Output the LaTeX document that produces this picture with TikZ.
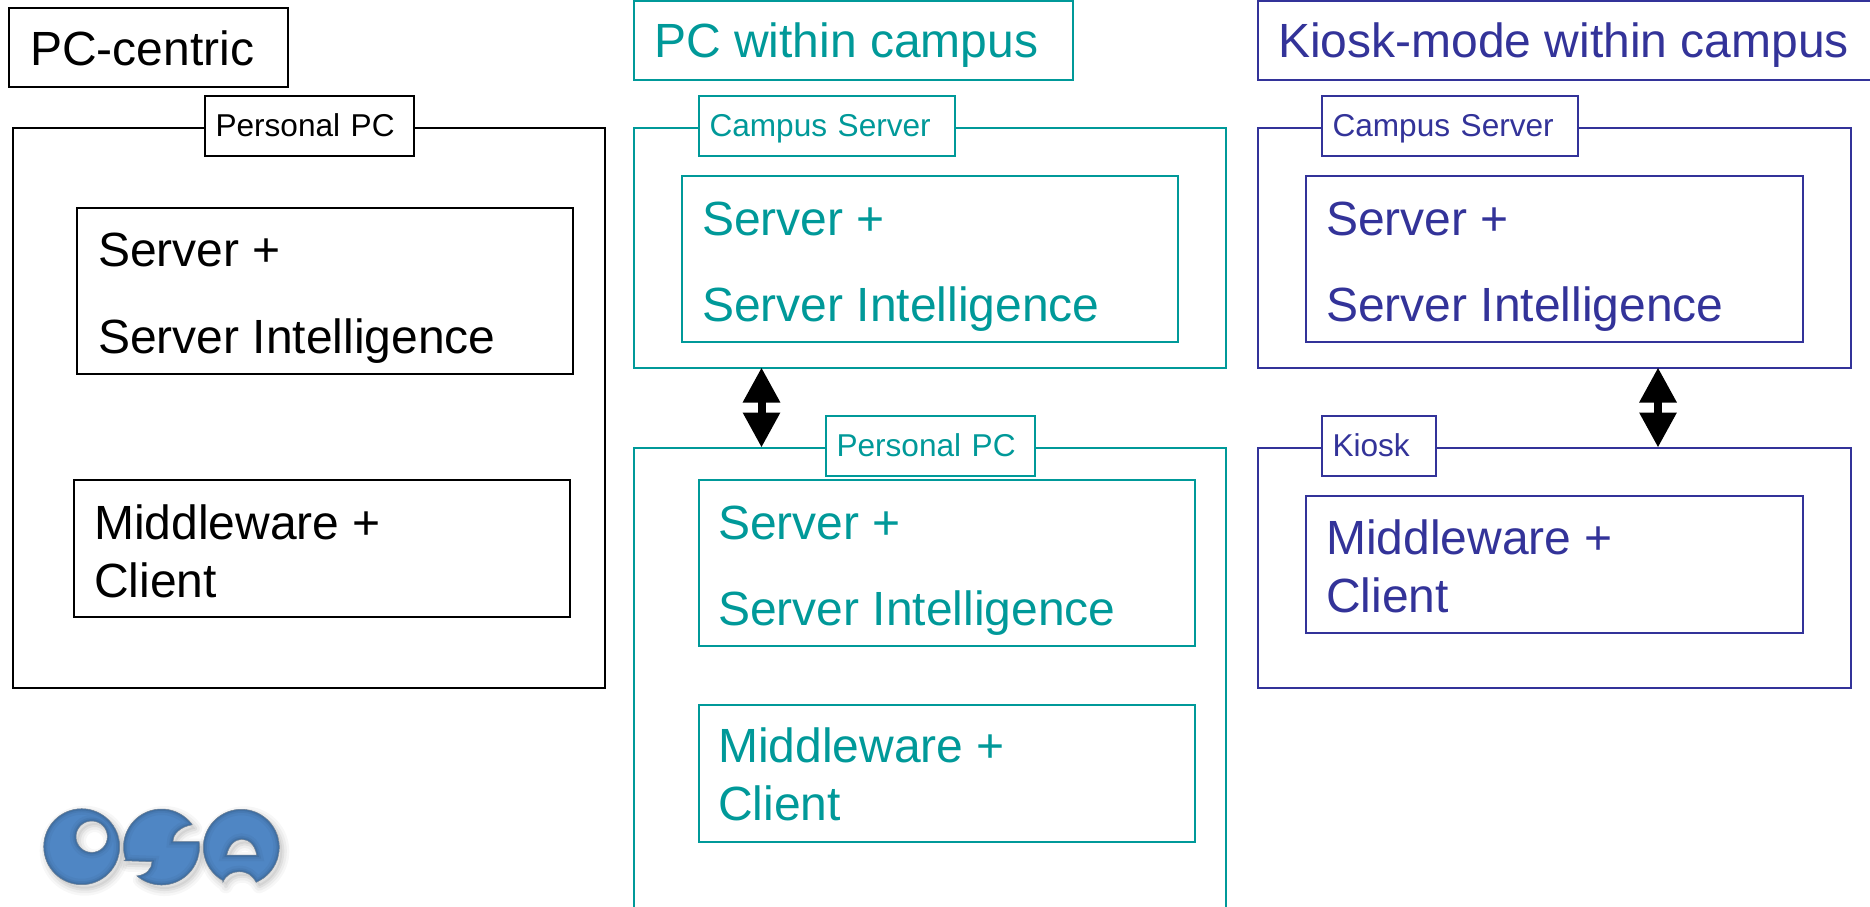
\documentclass[tikz,border=0pt]{standalone}
\usepackage{fontspec}
\usetikzlibrary{arrows.meta}
\setmainfont{Liberation Sans}
\definecolor{tealc}{HTML}{009999}
\definecolor{bluec}{HTML}{333399}
\definecolor{logoc}{HTML}{4F86C4}
\definecolor{logod}{HTML}{2A4A6E}
\tikzset{
  x=1pt,y=-1pt,
  frame/.style={draw=#1,line width=2pt,fill=white,inner sep=0pt,outer sep=0pt,anchor=north west},
  tagbox/.style={draw=#1,text=#1,line width=2pt,fill=white,outer sep=0pt,inner ysep=0pt,inner xsep=11pt,
    minimum height=60pt,align=left,text height=29pt,text depth=7pt,font=\fontsize{31.6}{32}\selectfont},
  big/.style={text=#1,font=\fontsize{48}{48}\selectfont,anchor=base west,inner sep=0pt},
  dblarrow/.style={line width=8pt,{Triangle[length=35pt,width=35.4pt]}-{Triangle[length=35pt,width=35.4pt]}},
}
\newcommand{\boxn}[6]{%
  \pgfmathsetmacro\myw{#5-#3}\pgfmathsetmacro\myh{#6-#4}%
  \node[frame=#2,minimum width=\myw pt,minimum height=\myh pt] (#1) at (#3,#4) {};}
\def\shapeO{(81.7,846.7) circle (38) (91.7,836.7) circle (15.7)}
\def\shapeS{(199.3,841.7) -- plot[domain=-8:130.5,samples=50] ({161.5+38*cos(\x)},{847+38*sin(\x)})
  .. controls (146,875) and (152,869) .. (152,861.7) -- (124,860.7)
  -- plot[domain=161:324,samples=50] ({161.5+38*cos(\x)},{847+38*sin(\x)})
  .. controls (180,827) and (173,834) .. (173,841.7) -- cycle}
\def\shapeA{plot[domain=-241:67,samples=80] ({241.3+38*cos(\x)},{847.3+38*sin(\x)})
  .. controls (252,875) and (247,871.7) .. (239,871.7)
  .. controls (232,871.7) and (226,875) .. (222.8,882.3) -- cycle
  (226.7,855) .. controls (229,845) and (235,839.3) .. (241.7,839.3)
  .. controls (249,839.3) and (255,845) .. (256.7,855) -- cycle}
\newcommand{\logopart}[1]{%
  \begin{scope}[shift={(3,4)},line join=round,even odd rule]
    \fill[black,opacity=.05] #1;
    \draw[black,opacity=.03,line width=14pt] #1;
    \draw[black,opacity=.04,line width=9pt] #1;
    \draw[black,opacity=.05,line width=4pt] #1;
  \end{scope}
  \begin{scope}[even odd rule]
    \clip #1;
    \fill[logoc] #1;
    \draw[logod,opacity=.08,line width=12pt] #1;
    \draw[logod,opacity=.12,line width=7pt] #1;
    \draw[logod,opacity=.22,line width=3.5pt] #1;
  \end{scope}
  \draw[gray!70!logoc,line width=.5pt] #1;}
\begin{document}
\begin{tikzpicture}
\useasboundingbox (0,0) rectangle (1870,906);
\fill[white] (0,0) rectangle (1870,906);

% ---- PC-centric ----
\boxn{a0}{black}{8.5}{7.5}{287.5}{86.5}
\node[big=black] (a0t) at (30,65) {PC-centric};
\boxn{a1}{black}{12.5}{127.5}{604.5}{687.5}
\node[tagbox=black,minimum width=209pt,text width=187pt] (a2) at (309,125.5) {Personal PC};
\boxn{a3}{black}{76.5}{207.5}{572.5}{373.5}
\node[big=black] (a3t) at (98,266) {Server +};
\node[big=black] (a3u) at (98,353.5) {Server Intelligence};
\boxn{a4}{black}{73.5}{479.5}{569.5}{616.5}
\node[big=black] (a4t) at (94,539) {Middleware +};
\node[big=black] (a4u) at (94,597) {Client};

% ---- PC within campus ----
\boxn{b0}{tealc}{633.5}{0.5}{1072.5}{79.5}
\node[big=tealc] (b0t) at (654,57) {PC within campus};
\boxn{b1}{tealc}{633.5}{127.5}{1225.5}{367.5}
\node[tagbox=tealc,minimum width=256pt,text width=234pt] (b2) at (826.5,125.5) {Campus Server};
\boxn{b3}{tealc}{681.5}{175.5}{1177.5}{341.5}
\node[big=tealc] (b3t) at (702,235) {Server +};
\node[big=tealc] (b3u) at (702,321) {Server Intelligence};
\boxn{b4}{tealc}{633.5}{447.5}{1225.5}{920.5}
\node[tagbox=tealc,minimum width=209pt,text width=187pt] (b5) at (930,445.5) {Personal PC};
\boxn{b6}{tealc}{698.5}{479.5}{1194.5}{645.5}
\node[big=tealc] (b6t) at (718,539) {Server +};
\node[big=tealc] (b6u) at (718,625) {Server Intelligence};
\boxn{b7}{tealc}{698.5}{704.5}{1194.5}{841.5}
\node[big=tealc] (b7t) at (718,762) {Middleware +};
\node[big=tealc] (b7u) at (718,820) {Client};
\coordinate (b1e) at (761.5,0 |- b1.south);
\coordinate (b4e) at (761.5,0 |- b4.north);
\draw[dblarrow] (b1e) -- (b4e);

% ---- Kiosk ----
\boxn{c0}{bluec}{1257.5}{0.5}{1885.5}{79.5}
\node[big=bluec] (c0t) at (1278,57) {Kiosk-mode within campus};
\boxn{c1}{bluec}{1257.5}{127.5}{1850.5}{367.5}
\node[tagbox=bluec,minimum width=256pt,text width=234pt] (c2) at (1449.5,125.5) {Campus Server};
\boxn{c3}{bluec}{1305.5}{175.5}{1802.5}{341.5}
\node[big=bluec] (c3t) at (1326,235) {Server +};
\node[big=bluec] (c3u) at (1326,321) {Server Intelligence};
\boxn{c4}{bluec}{1257.5}{447.5}{1850.5}{687.5}
\node[tagbox=bluec,minimum width=114pt,text width=92pt] (c5) at (1378.5,445.5) {Kiosk};
\boxn{c6}{bluec}{1305.5}{495.5}{1802.5}{632.5}
\node[big=bluec] (c6t) at (1326,554) {Middleware +};
\node[big=bluec] (c6u) at (1326,612) {Client};
\coordinate (c1e) at (1658,0 |- c1.south);
\coordinate (c4e) at (1658,0 |- c4.north);
\draw[dblarrow] (c1e) -- (c4e);

% ---- logo ----
\logopart{\shapeO}
\logopart{\shapeS}
\logopart{\shapeA}
\end{tikzpicture}
\end{document}
